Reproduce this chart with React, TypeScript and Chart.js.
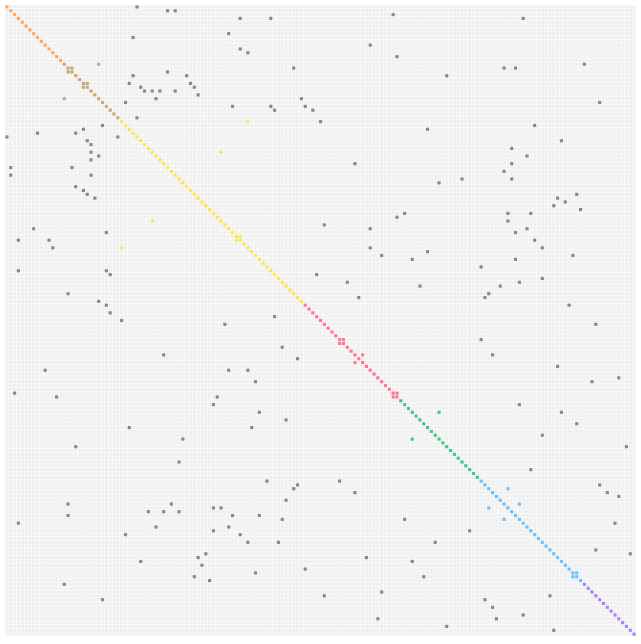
import { useEffect, useRef } from "react"
import { Chart, registerables } from "chart.js"

Chart.register(...registerables)

// number of nodes (rows = columns of the matrix)
const NODE_COUNT = 165

// first node index of every group, in order
const groupStarts = [0, 15, 30, 78, 103, 124, 151]
const groupColors = [
  "rgba(255, 159, 64, 0.85)",
  "rgba(196, 156, 98, 0.85)",
  "rgba(255, 226, 60, 0.9)",
  "rgba(255, 99, 132, 0.85)",
  "rgba(40, 190, 120, 0.85)",
  "rgba(80, 180, 245, 0.8)",
  "rgba(153, 102, 255, 0.8)",
]

// links (upper triangle); the matrix is mirrored
const linkSources = [
  0, 1, 1, 3, 3, 8, 7, 11, 12, 15, 16, 18, 17, 18, 20, 21, 22, 22, 22, 22, 20, 21, 23, 24, 25, 26, 26, 27, 24, 26, 27, 29,
  30, 30, 38, 70, 2, 3, 10, 13, 16, 16, 15, 18, 25, 32, 31, 35, 37, 39, 41, 41, 43, 45, 46, 45, 49, 50, 51, 52, 53, 54,
  54, 55, 54, 57, 58, 56, 59, 58, 61, 63, 63, 65, 66, 64, 66, 65, 68, 72, 76, 73, 73, 72, 71, 75, 76, 78, 83, 87, 91, 94,
  98, 97, 104, 106, 109, 112, 115, 121, 106, 125, 127, 128, 126, 130, 135, 142, 143, 16, 20, 60, 87, 101, 148, 91,
]
const linkTargets = [
  34, 42, 44, 61, 69, 33, 58, 61, 63, 24, 75, 33, 42, 47, 32, 35, 36, 38, 40, 44, 48, 49, 50, 39, 31, 59, 69, 70, 77, 78,
  80, 34, 63, 82, 56, 81, 101, 135, 95, 102, 130, 133, 151, 115, 155, 110, 138, 145, 132, 136, 91, 132, 130, 132, 113,
  119, 149, 144, 146, 143, 150, 131, 137, 102, 104, 83, 95, 131, 133, 136, 138, 140, 95, 98, 106, 110, 133, 148, 124, 89,
  92, 108, 129, 134, 140, 126, 125, 147, 154, 124, 127, 144, 153, 160, 134, 145, 149, 140, 162, 137, 113, 155, 157, 160,
  131, 134, 159, 154, 163, 17, 21, 61, 88, 102, 149, 93,
]

const groupOf = (node: number) => {
  let g = 0
  groupStarts.forEach((start, k) => {
    if (node >= start) g = k
  })
  return g
}

export default function App() {
  const chartRef = useRef<HTMLCanvasElement>(null)
  const chartInstance = useRef<Chart | null>(null)

  useEffect(() => {
    if (!chartRef.current) return
    if (chartInstance.current) chartInstance.current.destroy()

    const ctx = chartRef.current.getContext("2d")
    if (!ctx) return

    // empty cells
    const cells: { x: number; y: number }[] = []
    for (let r = 0; r < NODE_COUNT; r++) {
      for (let c = 0; c < NODE_COUNT; c++) cells.push({ x: c, y: r })
    }

    // coloured cells per group, grey for links between groups
    const groupCells: { x: number; y: number }[][] = groupStarts.map(() => [])
    const greyCells: { x: number; y: number }[] = []
    for (let i = 0; i < NODE_COUNT; i++) groupCells[groupOf(i)].push({ x: i, y: i })
    linkSources.forEach((s, idx) => {
      const t = linkTargets[idx]
      const target = groupOf(s) === groupOf(t) ? groupCells[groupOf(s)] : greyCells
      target.push({ x: t, y: s })
      target.push({ x: s, y: t })
    })

    const markRadius = 2.25

    chartInstance.current = new Chart(ctx, {
      type: "scatter",
      data: {
        datasets: [
          ...groupCells.map((data, k) => ({
            data,
            pointBackgroundColor: groupColors[k],
            pointRadius: markRadius,
            order: 0,
          })),
          {
            data: greyCells,
            pointBackgroundColor: "rgba(110, 110, 110, 0.8)",
            pointRadius: markRadius,
            order: 1,
          },
          {
            data: cells,
            pointBackgroundColor: "#f0f0f0",
            pointRadius: 2.4,
            order: 2,
          },
        ],
      },
      options: {
        responsive: false,
        devicePixelRatio: 1,
        animation: false,
        events: [],
        layout: { padding: { left: 5, top: 5, right: 5, bottom: 8 } },
        elements: {
          point: { pointStyle: "rect", borderWidth: 0, hoverRadius: 0 },
        },
        scales: {
          x: { type: "linear", display: false, min: -0.5, max: NODE_COUNT - 0.5 },
          y: { type: "linear", display: false, min: -0.5, max: NODE_COUNT - 0.5, reverse: true },
        },
        plugins: {
          legend: { display: false },
          tooltip: { enabled: false },
        },
      },
    })

    return () => {
      if (chartInstance.current) {
        chartInstance.current.destroy()
        chartInstance.current = null
      }
    }
  }, [])

  return (
    <div style={{ position: "fixed", left: 0, top: 0, width: 641, height: 644, background: "#fff" }}>
      <canvas ref={chartRef} width={641} height={644} style={{ display: "block" }} />
    </div>
  )
}
